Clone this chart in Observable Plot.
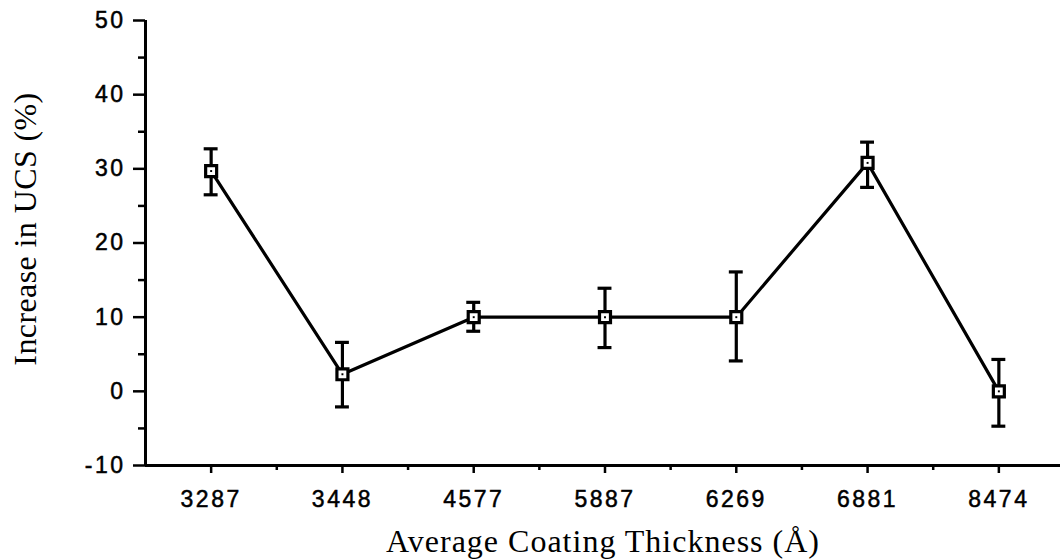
<!DOCTYPE html>
<html>
<head>
<meta charset="utf-8">
<script src="https://cdn.jsdelivr.net/npm/d3@7"></script>
<script src="https://cdn.jsdelivr.net/npm/@observablehq/plot@0.6"></script>
<style>
  html, body { margin: 0; padding: 0; background: #fff; }
  #chart svg { display: block; }
</style>
</head>
<body>
<div id="chart"></div>
<script>
// Data
const categories = ["3287", "3448", "4577", "5887", "6269", "6881", "8474"];
const values     = [29.7, 2.3, 10.0, 10.0, 10.0, 30.8, 0.0];
const errLow     = [26.5, -2.1, 8.1, 5.9, 4.1, 27.5, -4.7];
const errHigh    = [32.7, 6.6, 12.0, 13.9, 16.1, 33.6, 4.3];

const yTicks      = [-10, 0, 10, 20, 30, 40, 50];
const yMinorTicks = [-5, 5, 15, 25, 35, 45];
const xMajorTicks = [0, 1, 2, 3, 4, 5, 6];
const xMinorTicks = [0.5, 1.5, 2.5, 3.5, 4.5, 5.5];

const xTitle = "Average Coating Thickness (Å)";
const yTitle = "Increase in UCS (%)";

const data = categories.map((c, i) => ({i, c, v: values[i], lo: errLow[i], hi: errHigh[i]}));

const capHalf = 0.053;
const tickFont = "Liberation Sans, Arial, Helvetica, sans-serif";
const titleFont = "Liberation Serif, Times New Roman, serif";

const chart = Plot.plot({
  width: 1060,
  height: 559,
  marginLeft: 145,
  marginTop: 20,
  marginBottom: 94,
  marginRight: 0,
  style: {background: "#fff", color: "#000", overflow: "visible"},
  x: {type: "linear", domain: [-0.5, 6.5], range: [145, 1064]},
  y: {domain: [-10, 50]},
  marks: [
    // major y ticks with labels
    Plot.axisY({ticks: yTicks, tickSize: 12, tickPadding: 8, strokeWidth: 2.5,
      fontSize: 23, fontFamily: tickFont, label: null, tickFormat: d => String(d)}),
    // minor y ticks
    Plot.axisY({ticks: yMinorTicks, tickSize: 7, strokeWidth: 2.5, text: null, label: null}),
    // major x ticks with labels
    Plot.axisX({ticks: xMajorTicks, tickSize: 8, tickPadding: 17, strokeWidth: 2.5,
      fontSize: 23, fontFamily: tickFont, label: null, tickFormat: i => categories[i]}),
    // minor x ticks
    Plot.axisX({ticks: xMinorTicks, tickSize: 5, strokeWidth: 2.5, text: null, label: null}),
    // axis lines
    Plot.ruleY([-10], {stroke: "#000", strokeWidth: 3}),
    Plot.ruleX([-0.5], {y1: -10, y2: 50, stroke: "#000", strokeWidth: 3}),
    // connecting line
    Plot.line(data, {x: "i", y: "v", stroke: "#000", strokeWidth: 3.2}),
    // error bars
    Plot.ruleX(data, {x: "i", y1: "lo", y2: "hi", stroke: "#000", strokeWidth: 3.2}),
    Plot.ruleY(data, {y: "lo", x1: d => d.i - capHalf, x2: d => d.i + capHalf, stroke: "#000", strokeWidth: 3.2}),
    Plot.ruleY(data, {y: "hi", x1: d => d.i - capHalf, x2: d => d.i + capHalf, stroke: "#000", strokeWidth: 3.2}),
    // markers
    Plot.dot(data, {x: "i", y: "v", symbol: "square", r: 6.2, fill: "#fff", stroke: "#000", strokeWidth: 3.2}),
    Plot.dot(data, {x: "i", y: "v", symbol: "square", r: 1.1, fill: "#000", stroke: "none"}),
    // axis titles
    Plot.text([xTitle], {frameAnchor: "bottom", dy: 76, text: d => d, fontSize: 32,
      fontFamily: titleFont, fill: "#000", textAnchor: "middle", lineAnchor: "middle"}),
    Plot.text([yTitle], {frameAnchor: "left", dx: -120, dy: -14, rotate: -90, text: d => d,
      fontSize: 32, fontFamily: titleFont, fill: "#000", textAnchor: "middle", lineAnchor: "middle"})
  ]
});

// tick label styling (print-like, spaced digits)
chart.querySelectorAll('g[aria-label="y-axis tick label"] text, g[aria-label="x-axis tick label"] text')
  .forEach(t => {
    t.setAttribute("letter-spacing", "2.5");
    t.setAttribute("stroke", "#000");
    t.setAttribute("stroke-width", "0.5");
  });
// slight tracking on the serif titles
chart.querySelectorAll('g[aria-label="text"] text').forEach(t => {
  t.setAttribute("letter-spacing", t.textContent === xTitle ? "1" : "0.4");
});

document.getElementById("chart").appendChild(chart);
</script>
</body>
</html>
